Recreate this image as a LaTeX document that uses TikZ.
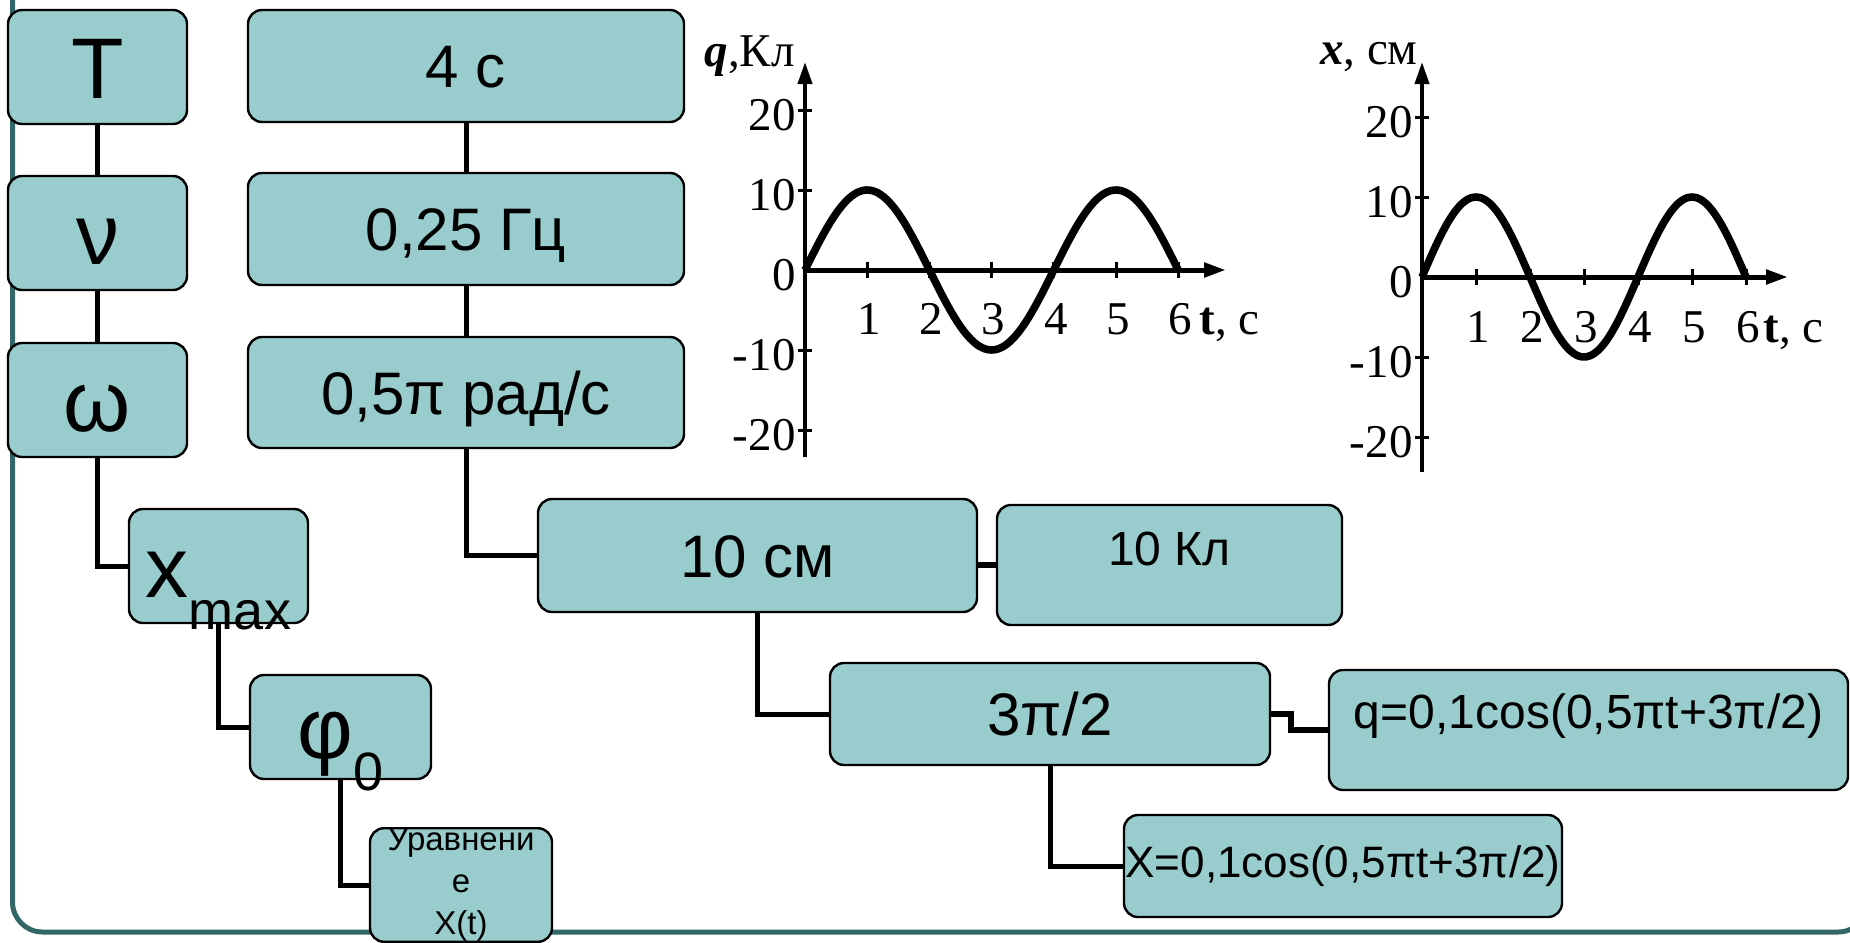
\documentclass[tikz,border=0pt]{standalone}
\usepackage{fontspec}
\setmainfont{Liberation Sans}
\newfontfamily\graphfont{Liberation Serif}
\usetikzlibrary{arrows.meta}
\definecolor{boxfill}{RGB}{153,204,204}
\definecolor{framecol}{RGB}{51,102,102}
\tikzset{
  box/.style={draw=black,line width=1.2pt,fill=boxfill,rounded corners=7pt,inner sep=0pt},
  big/.style={font=\fontsize{43}{50}\selectfont,text height=34pt,text depth=3pt},
  val/.style={font=\fontsize{30}{36}\selectfont,text height=24pt,text depth=2.5pt},
  link/.style={line width=2.5pt},
  axis/.style={line width=2pt,-{Triangle[length=11pt,width=7pt]}},
  tick/.style={line width=1.5pt},
  curve/.style={line width=3.8pt,line join=round},
  num/.style={font=\graphfont\fontsize{23.5}{28}\selectfont,inner sep=0pt}
}
\begin{document}
\begin{tikzpicture}[x=0.5pt,y=-0.5pt]
\useasboundingbox (0,0) rectangle (1850,942);
\draw[framecol,line width=2.5pt,rounded corners=15pt] (12.5,-40) -- (12.5,932) -- (1868,932) -- (1868,-40);

\node[box,big,minimum width=89.5pt,minimum height=57pt] (T) at (97.5,67) {T};
\node[box,big,minimum width=89.5pt,minimum height=57pt] (nu) at (97.5,233) {ν};
\node[box,big,minimum width=89.5pt,minimum height=57pt] (om) at (97.5,400) {ω};
\node[box,big,minimum width=89.5pt,minimum height=57pt] (xm) at (218.5,566) {x\raisebox{-16pt}{\fontsize{27}{30}\selectfont max}};
\node[box,big,minimum width=90.5pt,minimum height=52pt] (phi) at (340.5,727) {φ\raisebox{-16pt}{\fontsize{27}{30}\selectfont 0}};
\node[box,minimum width=91pt,minimum height=52pt,align=center,font=\fontsize{16.5}{21}\selectfont] (eq) at (461,885) {Уравнени\\е\\X(t)};

\node[box,val,minimum width=218pt,minimum height=56pt] (per) at (466,66) {4 с};
\node[box,val,minimum width=218pt,minimum height=56pt] (freq) at (466,229) {0,25 Гц};
\node[box,val,minimum width=218pt,minimum height=55.5pt] (omv) at (466,392.5) {0,5π рад/с};
\node[box,val,minimum width=219.5pt,minimum height=56.5pt] (amp) at (757.5,555.5) {10 см};
\node[box,minimum width=172.5pt,minimum height=60pt,font=\fontsize{24}{28}\selectfont,text height=17pt,text depth=17pt] (ch) at (1169.5,565) {10 Кл};
\node[box,val,minimum width=220pt,minimum height=51pt] (ph) at (1050,714) {3π/2};
\node[box,minimum width=259.5pt,minimum height=60pt,font=\fontsize{24}{28}\selectfont,text height=17.5pt,text depth=19.5pt] (qeq) at (1588.5,730) {q=0,1cos(0,5πt+3π/2)};
\node[box,minimum width=219pt,minimum height=51pt,font=\fontsize{22}{26}\selectfont] (xeq) at (1343,866) {X=0,1cos(0,5πt+3π/2)};

\draw[link] (T) -- (nu);
\draw[link] (nu) -- (om);
\draw[link] (om.south) |- (xm.west);
\draw[link] (xm.south) |- (phi.west);
\draw[link] (phi.south) |- (eq.west);
\draw[link] (per) -- (freq);
\draw[link] (freq) -- (omv);
\draw[link] (omv.south) |- (amp.west);
\draw[link,line width=3.2pt] (amp.east |- ch.west) -- (ch.west);
\draw[link] (amp.south) |- (ph.west);
\draw[link,line width=3.2pt] (ph.east) -- ++(20,0) |- (qeq.west);
\draw[link] (ph.south) |- (xeq.west);

\draw[axis] (805,457) -- (805,62);
\draw[axis,line width=2.5pt] (805,270) -- (1226,270);
\foreach \t in {1,...,6} {
  \draw[tick] ({805+62.2*\t},262) -- ({805+62.2*\t},278);
  \node[num,anchor=base] (qt\t) at ({807+62.2*\t},334) {\t};
}
\foreach \v in {-20,-10,10,20}
  \draw[tick] (798,{270-8*\v}) -- (812,{270-8*\v});
\foreach \v/\n in {-20/a,-10/b,0/c,10/d,20/e}
  \node[num,anchor=east] (qv\n) at (796,{275-8*\v}) {\v};
\draw[curve] plot[domain=0:6,samples=80,smooth] ({805+62.2*\x},{270-80*sin(90*\x)});
\node[num,anchor=base east] (qlab) at (795,66) {\textbf{\textit{q}},Кл};
\node[num,anchor=base west] (tlab1) at (1199,334) {\textbf{t}, с};

\draw[axis] (1422,472) -- (1422,62);
\draw[axis,line width=2.5pt] (1422,277) -- (1788,277);
\foreach \t in {1,...,6} {
  \draw[tick] ({1422+54*\t},269) -- ({1422+54*\t},285);
  \node[num,anchor=base] (xt\t) at ({1424+54*\t},342) {\t};
}
\foreach \v in {-20,-10,10,20}
  \draw[tick] (1415,{277-8*\v}) -- (1429,{277-8*\v});
\foreach \v/\n in {-20/a,-10/b,0/c,10/d,20/e}
  \node[num,anchor=east] (xv\n) at (1413,{282-8*\v}) {\v};
\draw[curve] plot[domain=0:6,samples=80,smooth] ({1422+54*\x},{277-80*sin(90*\x)});
\node[num,anchor=base east] (xlab) at (1418,64) {\textbf{\textit{x}}, см};
\node[num,anchor=base west] (tlab2) at (1763,342) {\textbf{t}, с};
\end{tikzpicture}
\end{document}
